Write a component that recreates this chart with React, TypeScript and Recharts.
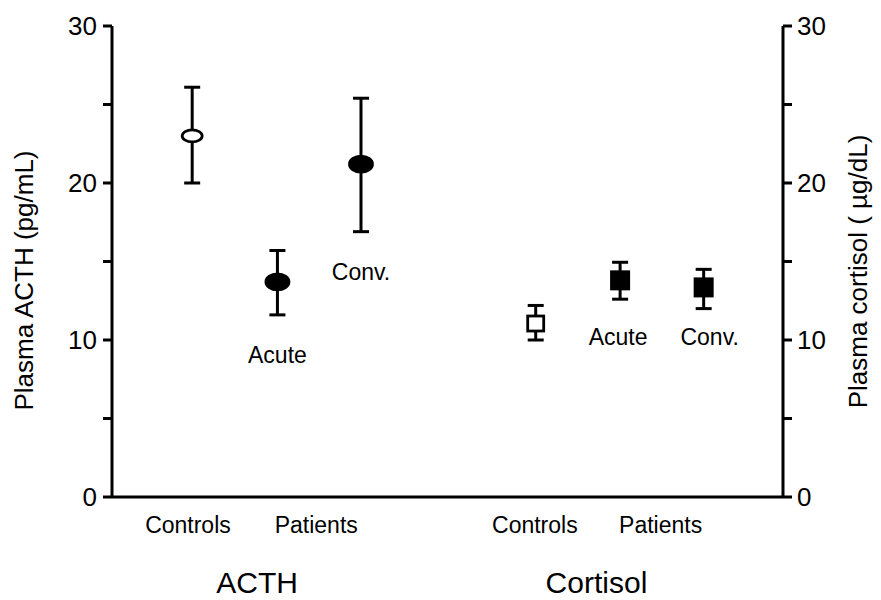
import React from 'react';
import { ComposedChart, Scatter, XAxis, YAxis, ErrorBar } from 'recharts';

// Group means with asymmetric SEM bars: [below, above]
const groups = ['ACTH', 'Cortisol'];
const groupLabelSlots = [1.72, 5.74];

const categoryLabels = ['Controls', 'Patients', 'Controls', 'Patients'];
const categoryLabelSlots = [0.9, 2.42, 5.01, 6.5];

const patientTags = ['Acute', 'Conv.'];

const acthSlots = [0.95, 1.96, 2.95];
const acthMean = [23.0, 13.7, 21.2];
const acthErrLow = [3.0, 2.1, 4.3];
const acthErrHigh = [3.1, 2.0, 4.2];

const cortisolSlots = [5.02, 6.02, 7.01];
const cortisolMean = [11.05, 13.8, 13.35];
const cortisolErrLow = [1.05, 1.2, 1.35];
const cortisolErrHigh = [1.15, 1.15, 1.15];

const yTicks = [0, 5, 10, 15, 20, 25, 30];

// pixel offsets of the Acute / Conv. tags from their markers
const acthTagOffsets = [
  { dx: 0, dy: 73 },
  { dx: 0, dy: 108 },
];
const cortisolTagOffsets = [
  { dx: -2, dy: 57 },
  { dx: 6, dy: 50 },
];

const FONT = '"Liberation Sans", Arial, Helvetica, sans-serif';

const build = (slots: number[], mean: number[], lo: number[], hi: number[], from: number, to: number) =>
  slots.slice(from, to).map((slot, i) => ({
    slot,
    value: mean[from + i],
    err: [lo[from + i], hi[from + i]],
    idx: i,
  }));

const acthControls = build(acthSlots, acthMean, acthErrLow, acthErrHigh, 0, 1);
const acthPatients = build(acthSlots, acthMean, acthErrLow, acthErrHigh, 1, 3);
const cortisolControls = build(cortisolSlots, cortisolMean, cortisolErrLow, cortisolErrHigh, 0, 1);
const cortisolPatients = build(cortisolSlots, cortisolMean, cortisolErrLow, cortisolErrHigh, 1, 3);

const tickMap: Record<string, { text: string; kind: 'cat' | 'group' }> = {};
categoryLabelSlots.forEach((s, i) => {
  tickMap[String(s)] = { text: categoryLabels[i], kind: 'cat' };
});
groupLabelSlots.forEach((s, i) => {
  tickMap[String(s)] = { text: groups[i], kind: 'group' };
});
const xTicks = [...categoryLabelSlots, ...groupLabelSlots].sort((a, b) => a - b);

const XTick = (props: any) => {
  const { x, y, payload } = props;
  const entry = tickMap[String(payload.value)];
  if (!entry) return null;
  const isGroup = entry.kind === 'group';
  return (
    <text
      x={x}
      y={y + (isGroup ? 96 : 36)}
      textAnchor="middle"
      fontFamily={FONT}
      fontSize={isGroup ? 30 : 23}
      fill="#000"
    >
      {entry.text}
    </text>
  );
};

const AxisTitle = (props: any) => {
  const { viewBox, text, side } = props;
  const vb = viewBox || { x: 0, y: 0, width: 0, height: 0 };
  const cx = side === 'left' ? vb.x + vb.width - 88 : vb.x + 75;
  const cy = vb.y + vb.height / 2 + (side === 'left' ? 19 : 10);
  return (
    <text
      x={cx}
      y={cy}
      transform={`rotate(-90 ${cx} ${cy})`}
      textAnchor="middle"
      dominantBaseline="central"
      fontFamily={FONT}
      fontSize={26}
      fill="#000"
    >
      {text}
    </text>
  );
};

const makeEllipse = (filled: boolean, offsets?: { dx: number; dy: number }[]) => (props: any) => {
  const { cx, cy, payload } = props;
  const rx = filled ? 11.5 : 10;
  const ry = filled ? 8 : 6;
  const off = offsets ? offsets[payload.idx] : null;
  return (
    <g>
      <ellipse cx={cx} cy={cy} rx={rx} ry={ry} fill={filled ? '#000' : '#fff'} stroke="#000" strokeWidth={2.8} />
      {off && (
        <text
          x={cx + off.dx}
          y={cy + off.dy}
          textAnchor="middle"
          dominantBaseline="central"
          fontFamily={FONT}
          fontSize={23}
          fill="#000"
        >
          {patientTags[payload.idx]}
        </text>
      )}
    </g>
  );
};

const makeSquare = (filled: boolean, offsets?: { dx: number; dy: number }[]) => (props: any) => {
  const { cx, cy, payload } = props;
  const w = filled ? 20 : 16;
  const h = filled ? 20 : 15;
  const off = offsets ? offsets[payload.idx] : null;
  return (
    <g>
      <rect
        x={cx - w / 2}
        y={cy - h / 2}
        width={w}
        height={h}
        fill={filled ? '#000' : '#fff'}
        stroke={filled ? 'none' : '#000'}
        strokeWidth={2.8}
      />
      {off && (
        <text
          x={cx + off.dx}
          y={cy + off.dy}
          textAnchor="middle"
          dominantBaseline="central"
          fontFamily={FONT}
          fontSize={23}
          fill="#000"
        >
          {patientTags[payload.idx]}
        </text>
      )}
    </g>
  );
};

const axisStroke = { stroke: '#000', strokeWidth: 3 };
const tickStroke = { stroke: '#000', strokeWidth: 3 };
const yTickStyle = { fill: '#000', fontSize: 26, fontFamily: FONT };
const fmt = (v: number) => (v % 10 === 0 ? String(v) : '');

export default function App() {
  return (
    <div style={{ position: 'fixed', left: 0, top: 0, width: 881, height: 600, background: '#fff' }}>
      <ComposedChart width={881} height={600} margin={{ top: 26, right: 38, bottom: 0, left: 52 }}>
        <XAxis
          type="number"
          dataKey="slot"
          domain={[0, 7.95]}
          ticks={xTicks}
          tick={<XTick />}
          tickLine={false}
          tickSize={0}
          tickMargin={0}
          axisLine={axisStroke}
          height={103}
          interval={0}
          allowDataOverflow
        />
        <YAxis
          yAxisId="left"
          orientation="left"
          dataKey="value"
          type="number"
          domain={[0, 30]}
          ticks={yTicks}
          interval={0}
          tickFormatter={fmt}
          tickSize={9}
          tickMargin={6}
          tick={yTickStyle}
          tickLine={tickStroke}
          axisLine={axisStroke}
          width={60}
          label={<AxisTitle side="left" text="Plasma ACTH (pg/mL)" />}
        />
        <YAxis
          yAxisId="right"
          orientation="right"
          dataKey="value"
          type="number"
          domain={[0, 30]}
          ticks={yTicks}
          interval={0}
          tickFormatter={fmt}
          tickSize={9}
          tickMargin={5}
          tick={yTickStyle}
          tickLine={tickStroke}
          axisLine={axisStroke}
          width={60}
          label={<AxisTitle side="right" text="Plasma cortisol ( µg/dL)" />}
        />
        <Scatter yAxisId="left" data={acthControls} dataKey="value" shape={makeEllipse(false)} isAnimationActive={false}>
          <ErrorBar dataKey="err" direction="y" width={8} stroke="#000" strokeWidth={3} />
        </Scatter>
        <Scatter
          yAxisId="left"
          data={acthPatients}
          dataKey="value"
          shape={makeEllipse(true, acthTagOffsets)}
          isAnimationActive={false}
        >
          <ErrorBar dataKey="err" direction="y" width={8} stroke="#000" strokeWidth={3} />
        </Scatter>
        <Scatter yAxisId="right" data={cortisolControls} dataKey="value" shape={makeSquare(false)} isAnimationActive={false}>
          <ErrorBar dataKey="err" direction="y" width={8} stroke="#000" strokeWidth={3} />
        </Scatter>
        <Scatter
          yAxisId="right"
          data={cortisolPatients}
          dataKey="value"
          shape={makeSquare(true, cortisolTagOffsets)}
          isAnimationActive={false}
        >
          <ErrorBar dataKey="err" direction="y" width={8} stroke="#000" strokeWidth={3} />
        </Scatter>
      </ComposedChart>
    </div>
  );
}
